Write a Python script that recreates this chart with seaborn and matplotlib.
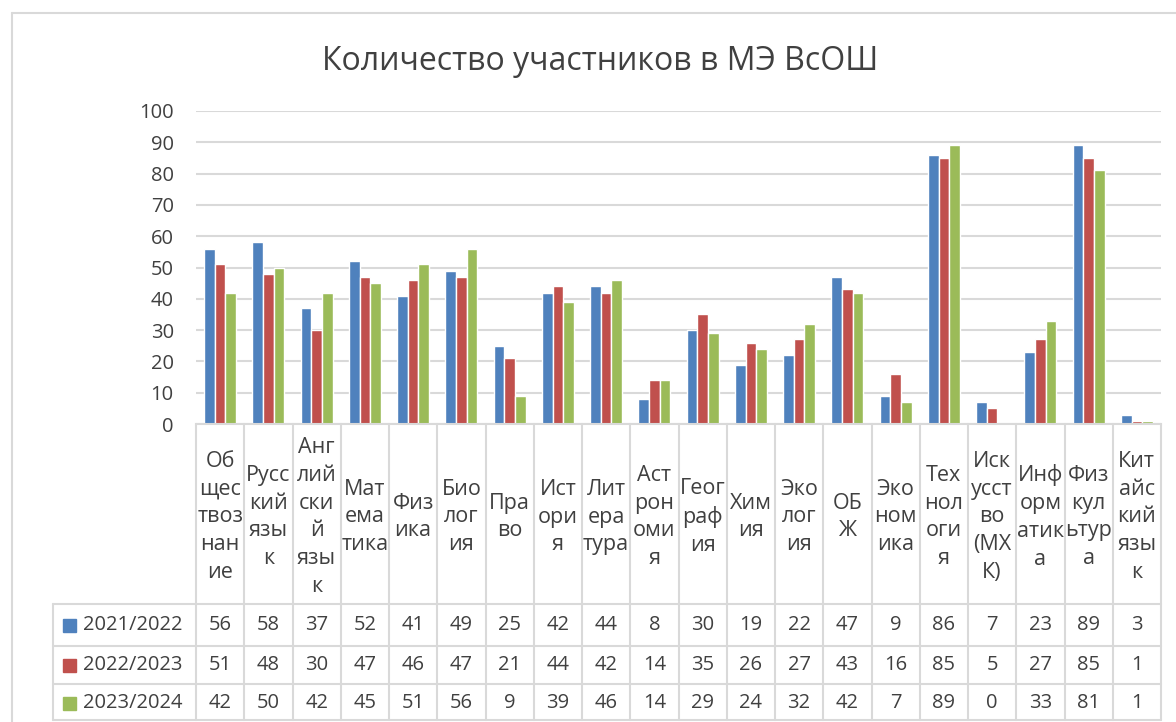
import matplotlib
matplotlib.use("Agg")
import matplotlib.pyplot as plt
import matplotlib.transforms as mtransforms
from matplotlib.lines import Line2D
from matplotlib.patches import Rectangle
import pandas as pd
import seaborn as sns

sns.set_style("white")
plt.rcParams["font.family"] = ["Open Sans", "DejaVu Sans"]

# данные
subjects = ["Обществознание", "Русский язык", "Английский язык", "Математика", "Физика",
            "Биология", "Право", "История", "Литература", "Астрономия", "География",
            "Химия", "Экология", "ОБЖ", "Экономика", "Технология", "Искусство (МХК)",
            "Информатика", "Физкультура", "Китайский язык"]
subject_labels = ["Об\nщес\nтвоз\nнан\nие", "Русс\nкий\nязы\nк", "Анг\nлий\nски\nй\nязы\nк",
                  "Мат\nема\nтика", "Физ\nика", "Био\nлог\nия", "Пра\nво", "Ист\nори\nя",
                  "Лит\nера\nтура", "Аст\nрон\nоми\nя", "Геог\nраф\nия", "Хим\nия",
                  "Эко\nлог\nия", "ОБ\nЖ", "Эко\nном\nика", "Тех\nнол\nоги\nя",
                  "Иск\nусст\nво\n(МХ\nК)", "Инф\nорм\nатик\nа", "Физ\nкул\nьтур\nа",
                  "Кит\nайс\nкий\nязы\nк"]
years = ["2021/2022", "2022/2023", "2023/2024"]
v2021 = [56, 58, 37, 52, 41, 49, 25, 42, 44, 8, 30, 19, 22, 47, 9, 86, 7, 23, 89, 3]
v2022 = [51, 48, 30, 47, 46, 47, 21, 44, 42, 14, 35, 26, 27, 43, 16, 85, 5, 27, 85, 1]
v2023 = [42, 50, 42, 45, 51, 56, 9, 39, 46, 14, 29, 24, 32, 42, 7, 89, 0, 33, 81, 1]
colors = ["#4F81BD", "#C0504D", "#9BBB59"]

values = [v2021, v2022, v2023]
df = pd.DataFrame({
    "subject": subjects * 3,
    "year": [y for y in years for _ in subjects],
    "count": v2021 + v2022 + v2023,
})

W, H = 1176, 722
def fx(px):
    return px / W
def fy(py):
    return 1 - py / H

text_c = "#404040"
line_c = "#d9d9d9"

fig = plt.figure(figsize=(W / 100, H / 100), dpi=100)
ax = fig.add_axes([fx(196), fy(424), fx(1161) - fx(196), fy(111) - fy(424)])

sns.barplot(data=df, x="subject", y="count", hue="year", order=subjects, hue_order=years,
            palette=colors, width=0.66, gap=0, saturation=1, legend=False, ax=ax)

ax.set_xlim(-0.5, len(subjects) - 0.5)
ax.set_ylim(0, 100)
ax.set_yticks(range(0, 101, 10))
ax.yaxis.grid(True, color=line_c, linewidth=1.5)
ax.set_axisbelow(True)
for s in ["left", "right", "top"]:
    ax.spines[s].set_visible(False)
ax.spines["bottom"].set_color(line_c)
ax.spines["bottom"].set_linewidth(1.5)
ax.tick_params(axis="y", length=0, labelsize=14.5, labelcolor=text_c, pad=16)
ax.tick_params(axis="x", length=0, labelbottom=False)
ax.set_xlabel("")
ax.set_ylabel("")

# заголовок
fig.text(fx(600), fy(61), "Количество участников в МЭ ВсОШ", ha="center", va="center",
         fontsize=23, color=text_c)

# рамка диаграммы
fig.add_artist(Line2D([fx(12), fx(12)], [fy(13), fy(722)], color=line_c, lw=1.5))
fig.add_artist(Line2D([fx(12), 1], [fy(13), fy(13)], color=line_c, lw=1.5))

# таблица данных
trans = mtransforms.blended_transform_factory(ax.transData, fig.transFigure)
for i in range(len(subjects) + 1):
    fig.add_artist(Line2D([i - 0.5, i - 0.5], [fy(424), fy(720)], transform=trans,
                          color=line_c, lw=1.5))
fig.add_artist(Line2D([fx(53), fx(53)], [fy(604), fy(720)], color=line_c, lw=1.5))
for py in [604, 646, 684, 720]:
    fig.add_artist(Line2D([fx(53), fx(1161)], [fy(py), fy(py)], color=line_c, lw=1.5))

for i, lab in enumerate(subject_labels):
    fig.text(i, fy(517), lab, transform=trans, ha="center", va="center",
             fontsize=15.5, color=text_c, linespacing=1.42)

row_y = [625, 665, 703]
for r, year in enumerate(years):
    fig.add_artist(Rectangle((fx(63), fy(row_y[r] + 7)), 13 / W, 13 / H,
                             color=colors[r], transform=fig.transFigure))
    fig.text(fx(83), fy(row_y[r]), year, ha="left", va="center", fontsize=14.5, color=text_c)
    for i, v in enumerate(values[r]):
        fig.text(i, fy(row_y[r]), str(v), transform=trans, ha="center", va="center",
                 fontsize=14.5, color=text_c)

fig.savefig("out.png", dpi=100)
